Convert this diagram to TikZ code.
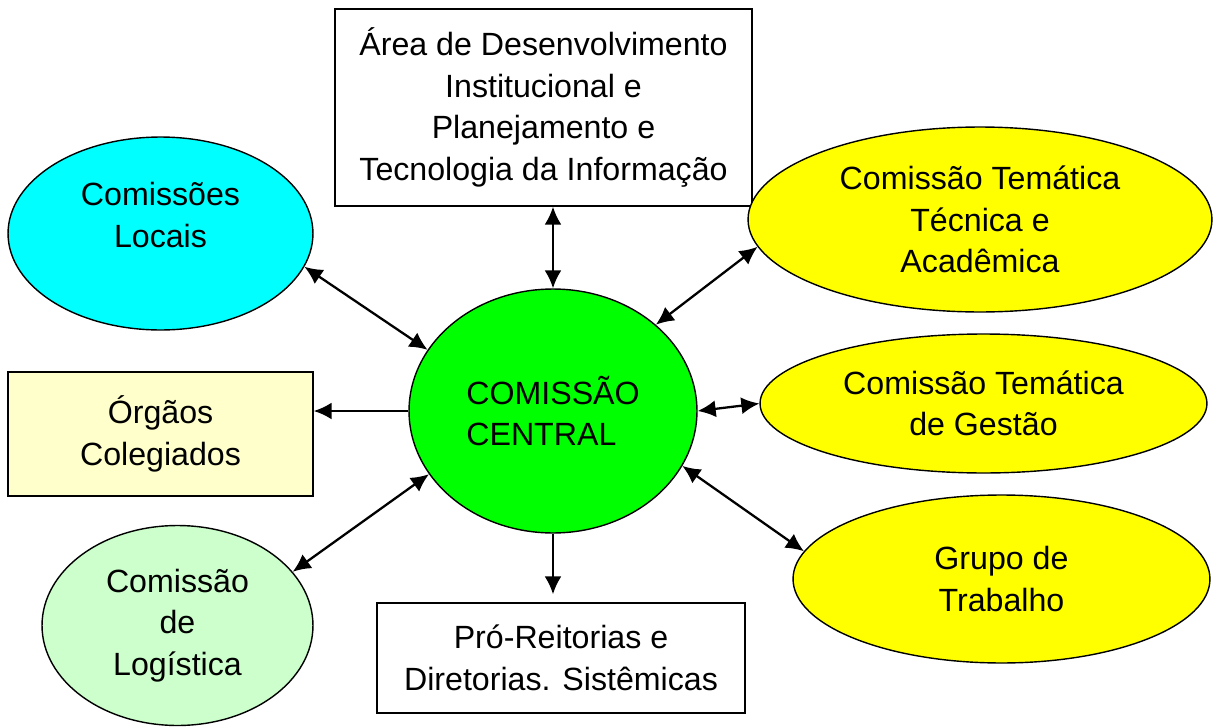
\documentclass[tikz,border=0pt]{standalone}
\usepackage{fontspec}
\setmainfont{Liberation Sans}
\usepackage{tikz}
\usetikzlibrary{arrows.meta, shapes.geometric}
\definecolor{paleyel}{HTML}{FFFFCC}
\definecolor{palegrn}{HTML}{CCFFCC}
\definecolor{aqua}{HTML}{00FFFF}
\definecolor{lime}{HTML}{00FF00}
\definecolor{lemon}{HTML}{FFFF00}
\tikzstyle{box}=[draw, rectangle, line width=0.8pt, fill=white, align=center, inner sep=0pt]
\tikzstyle{comm}=[draw, ellipse, line width=0.8pt, align=center, inner sep=0pt]
\tikzstyle{link}=[line width=1.3pt]

\begin{document}
\begin{tikzpicture}[x=0.02cm, y=-0.02cm, >={Latex[length=0.36cm,width=0.34cm]},
    font=\fontsize{18.3}{23.6}\selectfont]
  \useasboundingbox (0,0) rectangle (1215,727);
  % centre
  \node [comm, fill=lime, align=left, minimum width=5.76cm, minimum height=4.88cm] (cc) at (553,411) {COMISSÃO\\CENTRAL};
  % left side
  \node [comm, fill=aqua, minimum width=6.1cm, minimum height=3.86cm] (loc) at (160.5,233.5) {};
  \node [align=center] (loct) at (160.5,215) {Comissões\\Locais};
  \node [box, fill=paleyel, minimum width=6.1cm, minimum height=2.48cm] (org) at (160.5,434) {Órgãos\\Colegiados};
  \node [comm, fill=palegrn, minimum width=5.42cm, minimum height=4cm] (lgs) at (177.5,625.5) {Comissão\\de\\Logística};
  % top and bottom
  \node [box, minimum width=8.34cm, minimum height=3.94cm] (top) at (543.5,107.5) {Área de Desenvolvimento\\Institucional e\\Planejamento e\\Tecnologia da Informação};
  \node [box, minimum width=7.36cm, minimum height=2.2cm] (pro) at (561,658) {Pró-Reitorias e\\Diretorias. Sistêmicas};
  % right side
  \node [comm, fill=lemon, minimum width=9.28cm, minimum height=3.7cm] (tec) at (980,219.5) {Comissão Temática\\Técnica e\\Acadêmica};
  \node [comm, fill=lemon, minimum width=8.94cm, minimum height=2.78cm] (gst) at (983.5,403.5) {Comissão Temática\\de Gestão};
  \node [comm, fill=lemon, minimum width=8.34cm, minimum height=3.36cm] (grp) at (1001.5,579) {Grupo de\\Trabalho};

  \draw [link, <->] (cc.north |- top.south) -- (cc.north);
  \draw [link, <->] (loc.347) -- (cc.154);
  \draw [link, ->] (cc.west) -- (cc.west -| org.east);
  \draw [link, <->] (lgs.25) -- (cc.207);
  \draw [link, ->, shorten >=0.16cm] (cc.south) -- (cc.south |- pro.north);
  \draw [link, <->] (tec.187) -- (cc.40);
  \draw [link, <->] (cc.east) -- (gst.west);
  \draw [link, <->] (cc.337) -- (grp.172);
\end{tikzpicture}
\end{document}
